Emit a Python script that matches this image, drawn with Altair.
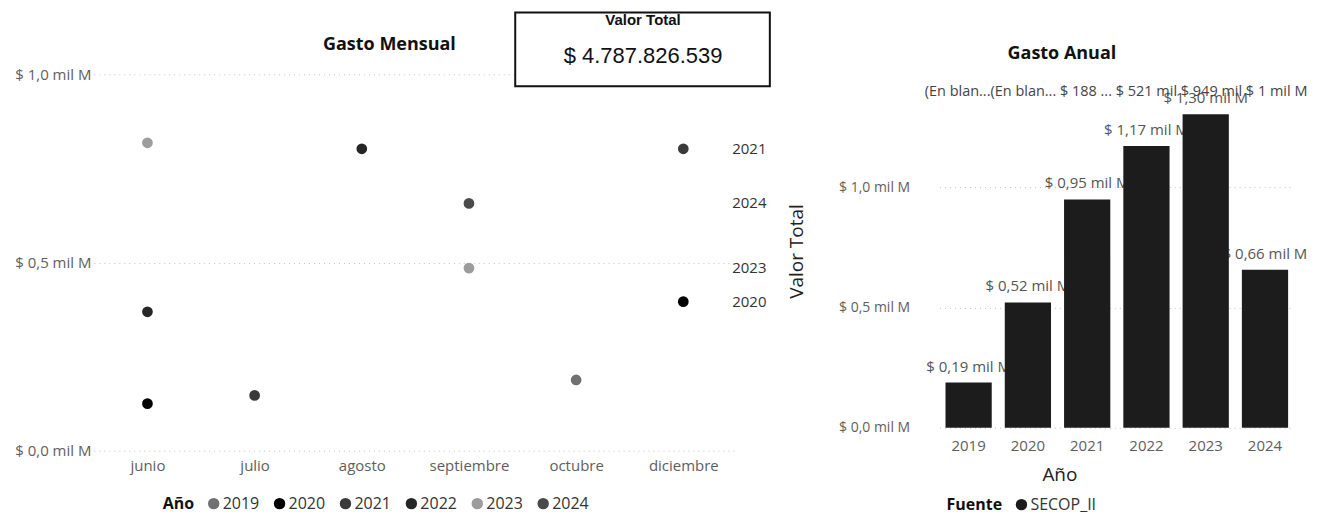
import altair as alt
import pandas as pd

# ---------------- datos ----------------
meses = ["junio", "julio", "agosto", "septiembre", "octubre", "diciembre"]
anios = ["2019", "2020", "2021", "2022", "2023", "2024"]

punto_mes = ["junio", "junio", "junio", "julio", "agosto",
             "septiembre", "septiembre", "octubre", "diciembre", "diciembre"]
punto_anio = ["2023", "2022", "2020", "2021", "2022",
              "2024", "2023", "2019", "2021", "2020"]
# valores en miles de millones de pesos ($ mil M)
punto_valor = [0.818, 0.369, 0.125, 0.147, 0.802,
               0.657, 0.485, 0.188, 0.802, 0.396]

colores_anio = ["#707070", "#000000", "#3a3a3a", "#262626", "#9c9c9c", "#4a4a4a"]

etiquetas_fin = ["2021", "2024", "2023", "2020"]
fuente = ["SECOP_II"]
etiquetas_superiores = ["(En blan...", "(En blan... ", "$ 188 ...   ",
                        "$ 521 mil ", "$ 949 mil ", "$ 1 mil M"]
valor_total = 4787826539

# ---------------- tablas ----------------
df = pd.DataFrame({"Mes": punto_mes, "Año": punto_anio,
                   "Valor": punto_valor, "Fuente": fuente[0]})

orden = {m: i for i, m in enumerate(meses)}
ult = (df.assign(_o=df["Mes"].map(orden)).sort_values("_o")
         .groupby("Año").tail(1))
ult = ult[ult["Año"].isin(etiquetas_fin)].copy()
ult["Mes"] = meses[-1]
ult = ult.drop(columns="_o")

tarjeta_df = pd.DataFrame({
    "Titulo": ["Valor Total"],
    "Texto": ["$ " + f"{valor_total:,}".replace(",", ".")],
})
fila_df = pd.DataFrame({"Año": [anios[0]], "Texto": ["".join(etiquetas_superiores)]})

FONT = "Segoe UI, Open Sans, sans-serif"
LABEL = "#5e5e5e"
W1, H1 = 644, 377
W2, H2 = 355, 354

fmt_axis = "'$ ' + replace(format(datum.value, '.1f'), '.', ',') + ' mil M'"

# ---------------- Gasto Mensual ----------------
x1 = alt.X("Mes:N", sort=meses,
           scale=alt.Scale(type="point", domain=meses, padding=0.5),
           axis=alt.Axis(title=None, labelAngle=0, labelFontSize=15, labelColor=LABEL,
                         labelFont=FONT, labelPadding=8, ticks=False, domain=False,
                         grid=False))
y1 = alt.Y("Valor:Q", scale=alt.Scale(domain=[0, 1.0], nice=False),
           axis=alt.Axis(title=None, values=[0, 0.5, 1.0], labelExpr=fmt_axis,
                         labelFontSize=15, labelColor=LABEL, labelFont=FONT,
                         labelPadding=3, ticks=False, domain=False, grid=True,
                         gridColor="#c4c4c4", gridDash=[1, 4], gridWidth=1))

puntos = alt.Chart(df).mark_circle(size=115, opacity=1).encode(
    x=x1, y=y1,
    color=alt.Color("Año:N", scale=alt.Scale(domain=anios, range=colores_anio),
                    legend=alt.Legend(title="Año", orient="none", legendX=69, legendY=422,
                                      direction="horizontal", titleOrient="left",
                                      titleFontSize=16, titleFontWeight="bold",
                                      titleColor="#111", titleFont=FONT, labelFont=FONT,
                                      labelFontSize=16, labelColor="#333",
                                      symbolType="circle", symbolSize=130,
                                      symbolStrokeWidth=0, labelOffset=1,
                                      columnPadding=12, titlePadding=11)),
)

fin = alt.Chart(ult).mark_text(align="left", baseline="middle", dx=49, fontSize=15,
                               font=FONT, color="#333").encode(
    x=x1, y=y1, text="Año:N")

caja = alt.Chart(tarjeta_df).mark_rect(fill="white", stroke="#111", strokeWidth=2).encode(
    x=alt.value(422), x2=alt.value(677), y=alt.value(-62), y2=alt.value(12))
caja_t = alt.Chart(tarjeta_df).mark_text(fontSize=15, fontWeight="bold",
                                         font="Liberation Sans, Arial", color="#111",
                                         baseline="middle").encode(
    x=alt.value(550), y=alt.value(-54), text="Titulo:N")
caja_v = alt.Chart(tarjeta_df).mark_text(fontSize=22, font="Liberation Sans, Arial",
                                         color="#111", baseline="middle").encode(
    x=alt.value(550), y=alt.value(-18), text="Texto:N")

izq = alt.layer(puntos, fin, caja, caja_t, caja_v).properties(
    width=W1, height=H1,
    title=alt.TitleParams("Gasto Mensual", fontSize=18, fontWeight="bold", font=FONT,
                          color="#111", anchor="middle", frame="group", dx=-26,
                          offset=-57, baseline="alphabetic"))

# ---------------- Gasto Anual ----------------
base2 = alt.Chart(df).transform_aggregate(
    Total="sum(Valor)", groupby=["Año", "Fuente"]
).transform_calculate(
    Etiqueta="'$ ' + replace(format(datum.Total, '.2f'), '.', ',') + ' mil M'"
)

x2 = alt.X("Año:N", sort=anios,
           scale=alt.Scale(domain=anios, paddingInner=0.22, paddingOuter=0.1),
           axis=alt.Axis(title="Año", titleFontSize=19, titleFontWeight="normal",
                         titleColor="#222", titleFont=FONT, titlePadding=12, titleX=120,
                         labelFontSize=15, labelColor=LABEL, labelFont=FONT,
                         labelPadding=11, ticks=False, domain=False, labelAngle=0))
y2 = alt.Y("Total:Q", scale=alt.Scale(domain=[0, 1.469], nice=False),
           axis=alt.Axis(title="Valor Total", titleFontSize=19, titleFontWeight="normal",
                         titleColor="#222", titleFont=FONT, titleX=-133,
                         values=[0, 0.5, 1.0], labelExpr=fmt_axis, labelFontSize=14,
                         labelColor=LABEL, labelFont=FONT, labelPadding=30, ticks=False,
                         domain=False, grid=True, gridColor="#c4c4c4", gridDash=[1, 4]))

etiquetas = base2.mark_text(baseline="alphabetic", dy=-11, fontSize=15, font=FONT,
                            color="#555").encode(x=x2, y=y2, text="Etiqueta:N")
barras = base2.mark_bar().encode(
    x=x2, y=y2,
    color=alt.Color("Fuente:N", scale=alt.Scale(domain=fuente, range=["#1c1c1c"]),
                    legend=alt.Legend(title="Fuente", orient="none", legendX=7, legendY=423,
                                      direction="horizontal", titleOrient="left",
                                      titleFontSize=16, titleFontWeight="bold",
                                      titleColor="#111", titleFont=FONT, labelFont=FONT,
                                      labelFontSize=16, labelColor="#333",
                                      symbolType="circle", symbolSize=130,
                                      symbolStrokeWidth=0, labelOffset=1,
                                      titlePadding=11)),
)
fila = alt.Chart(fila_df).mark_text(align="left", baseline="middle", dx=-44, fontSize=14.5,
                                    font=FONT, color="#444").encode(
    x=x2, y=alt.value(18), text="Texto:N")

der = alt.layer(etiquetas, barras, fila).properties(
    width=W2, height=H2,
    title=alt.TitleParams("Gasto Anual", fontSize=18, fontWeight="bold", font=FONT,
                          color="#111", anchor="middle", frame="group", dx=-55,
                          offset=-3, baseline="alphabetic"))

chart = alt.hconcat(izq, der, spacing=203, bounds="flush").resolve_scale(
    color="independent", x="independent", y="independent"
).resolve_legend(color="independent").configure_view(stroke=None).properties(
    padding={"left": 6, "top": 3, "right": 0, "bottom": 4})

chart.save("out.html", embed_options={"renderer": "svg", "actions": False})
